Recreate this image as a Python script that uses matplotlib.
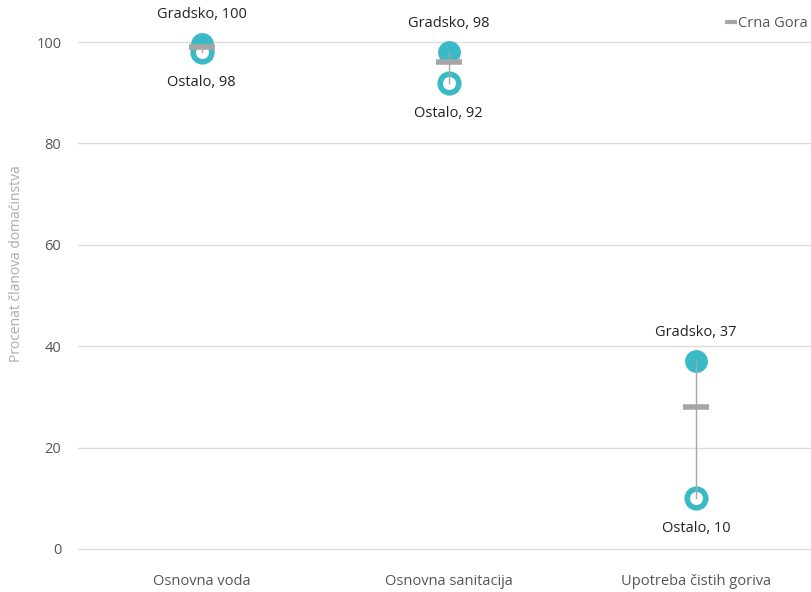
import matplotlib.pyplot as plt
from matplotlib.lines import Line2D

categories = ['Osnovna voda', 'Osnovna sanitacija', 'Upotreba čistih goriva']
gradsko = [99.6, 98, 37]
gradsko_labels = ['100', '98', '37']
ostalo = [98, 92, 10]
ostalo_labels = ['98', '92', '10']
crna_gora = [99, 96, 28]
yticks = [0, 20, 40, 60, 80, 100]

teal = '#3bb9c6'
grey = '#a6a6a6'

plt.rcParams['font.family'] = ['Open Sans', 'DejaVu Sans']

fig = plt.figure(figsize=(8.12, 5.92), dpi=100)
ax = fig.add_axes([78 / 812, 43 / 592, 1 - 78 / 812, 549 / 592])

x = list(range(len(categories)))

ax.scatter(x, gradsko, s=270, color=teal, zorder=3, linewidths=0)
ax.scatter(x, ostalo, s=180, facecolor='white', edgecolor=teal, linewidths=4, zorder=4)
for i in x:
    ax.plot([i, i], [ostalo[i], gradsko[i]], color=grey, lw=1, zorder=5)
ax.scatter(x, crna_gora, marker='_', s=330, color=grey, linewidths=4, zorder=6)

for i in x:
    ax.annotate(f'Gradsko, {gradsko_labels[i]}', (i, gradsko[i]), xytext=(0, 21),
                textcoords='offset points', ha='center', va='center', fontsize=10.5,
                color='#222222', annotation_clip=False)
    ax.annotate(f'Ostalo, {ostalo_labels[i]}', (i, ostalo[i]), xytext=(0, -22),
                textcoords='offset points', ha='center', va='center', fontsize=10.5,
                color='#222222', annotation_clip=False)

ax.set_xlim(-0.5, 2.47)
ax.set_ylim(0, 108.3)
ax.set_yticks(yticks)
ax.set_xticks(x)
ax.set_xticklabels(categories)
ax.tick_params(axis='both', length=0, labelsize=10.5, labelcolor='#555555')
ax.tick_params(axis='x', pad=18)
ax.tick_params(axis='y', pad=12)
ax.grid(axis='y', color='#dddddd', lw=1, clip_on=False)
ax.set_axisbelow(True)
for s in ax.spines.values():
    s.set_visible(False)

ax.set_ylabel('Procenat članova domaćinstva', color='#aaaaaa', fontsize=10)
ax.yaxis.set_label_coords(-0.074, 0.52)

handle = Line2D([], [], color=grey, marker='_', markersize=8, markeredgewidth=3, lw=0)
ax.legend([handle], ['Crna Gora'], loc='upper right', bbox_to_anchor=(1.008, 0.99),
          frameon=False, fontsize=10.5, handlelength=0.5, handletextpad=0.2,
          labelcolor='#555555', borderaxespad=0.3)

fig.savefig('out.png', dpi=100)
